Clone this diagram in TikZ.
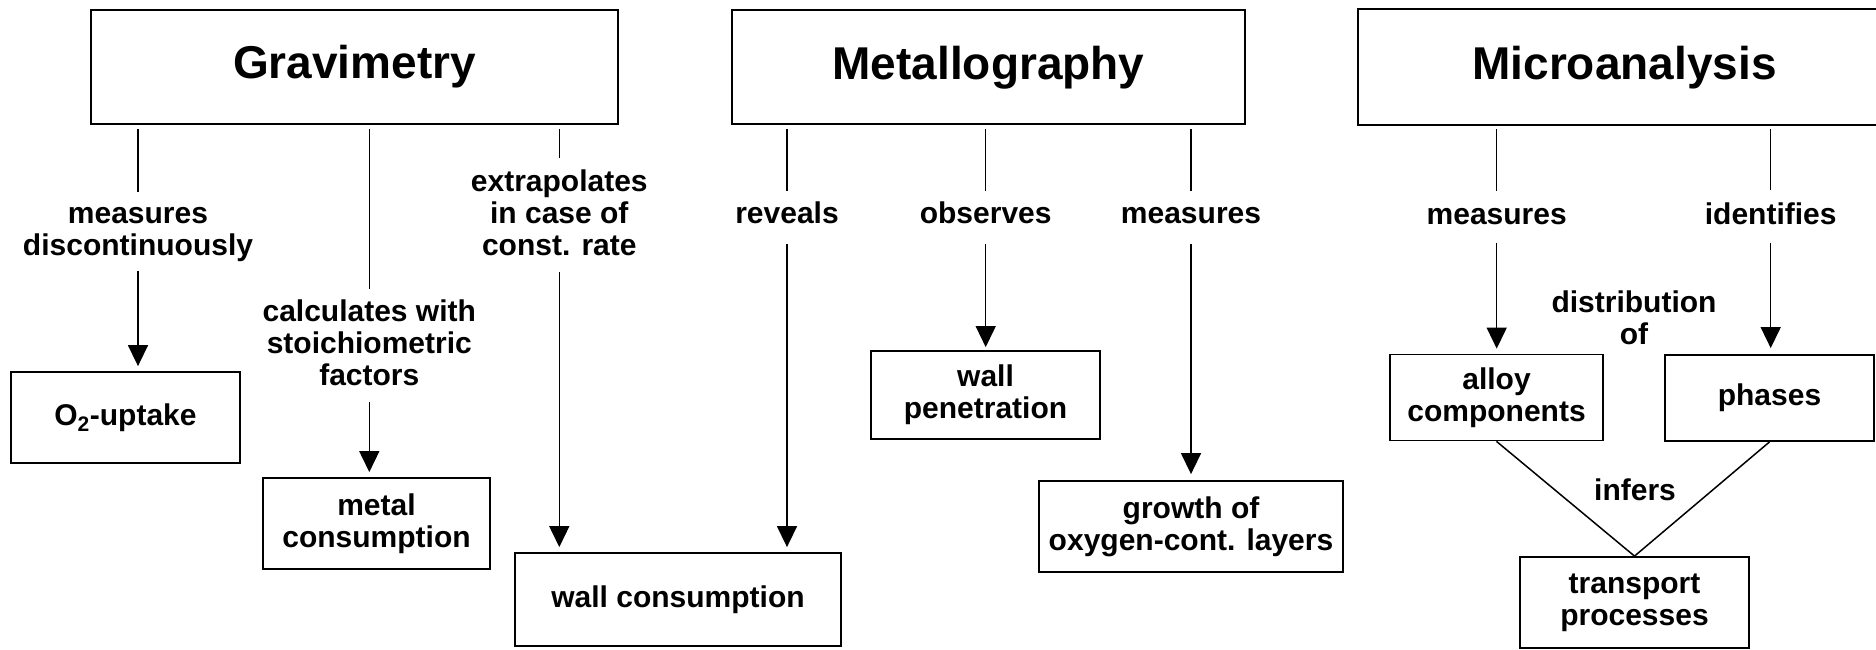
\documentclass[tikz,border=0pt]{standalone}
\usepackage{fontspec}
\setmainfont{Liberation Sans}
\usetikzlibrary{arrows.meta}
\begin{document}
\begin{tikzpicture}[x=1pt,y=-1pt,
  hdr/.style={draw, line width=2pt, font=\fontsize{46}{50}\selectfont\bfseries, inner sep=0pt, minimum height=114pt},
  box/.style={draw, line width=1.8pt, align=center, font=\fontsize{30}{32}\selectfont\bfseries, inner sep=0pt},
  lbl/.style={align=center, font=\fontsize{30}{32}\selectfont\bfseries, inner sep=0pt},
  conn/.style={line width=1.5pt},
  arr/.style={conn, -{Triangle[length=21pt,width=20pt]}}]
\useasboundingbox (0,0) rectangle (1876,650);

% headers
\node[hdr, minimum width=527pt] (grav) at (354.5,67) {Gravimetry};
\node[hdr, minimum width=513pt] (met) at (988.5,67.5) {Metallography};
\node[hdr, draw=none, minimum width=531pt] (micro) at (1624.5,67.5) {Microanalysis};
\draw[line width=2pt] (micro.north east) -- (micro.north west) -- (micro.south west) -- (micro.south east);

% result boxes
\node[box, minimum width=229pt, minimum height=91pt] (o2) at (125.5,417.5) {O\textsubscript{2}-uptake};
\node[box, minimum width=227pt, minimum height=91pt] (metal) at (376.5,523.5) {metal\\consumption};
\node[box, minimum width=326pt, minimum height=93pt] (wallc) at (678,599.5) {wall consumption};
\node[box, minimum width=229pt, minimum height=88pt] (wallp) at (985.5,395) {wall\\penetration};
\node[box, minimum width=304pt, minimum height=91pt] (growth) at (1191,526.5) {growth of\\oxygen-cont. layers};
\node[box, minimum width=213pt, minimum height=86pt] (alloy) at (1496.5,397.5) {alloy\\components};
\node[box, minimum width=209pt, minimum height=86pt] (phases) at (1769.5,398) {phases};
\node[box, minimum width=229pt, minimum height=91pt] (transport) at (1634.5,602.5) {transport\\processes};

% labels
\node[lbl] (lm1) at (138,234.3) {measures\\discontinuously};
\node[lbl] (lc) at (369.3,342.6) {calculates with\\stoichiometric\\factors};
\node[lbl] (le) at (559.3,213) {extrapolates\\in case of\\const. rate};
\node[lbl] (lr) at (787,213) {reveals};
\node[lbl] (lo) at (985.7,213) {observes};
\node[lbl] (lmm) at (1191,216) {measures};
\node[lbl] (lma) at (1496.7,216.2) {measures};
\node[lbl] (li) at (1770.7,213.3) {identifies};
\node[lbl] (ld) at (1634,318) {distribution\\of};
\node[lbl] (linf) at (1635,490) {infers};

% Gravimetry connectors
\draw[conn, shorten <=4pt, shorten >=15pt] (grav.south -| lm1) -- (lm1.north);
\draw[arr, shorten <=9pt, shorten >=5pt] (lm1.south) -- (lm1.south |- o2.north);
\draw[conn, shorten <=4pt, shorten >=10pt] (grav.south -| lc) -- (lc.north);
\draw[arr, shorten <=16pt, shorten >=5pt] (lc.south) -- (lc.south |- metal.north);
\draw[conn, shorten <=4pt, shorten >=12pt] (grav.south -| le) -- (le.north);
\draw[arr, shorten <=16pt, shorten >=5pt] (le.south) -- (le.south |- wallc.north);

% Metallography connectors
\draw[conn, shorten <=4pt, shorten >=11pt] (met.south -| lr) -- (lr.north);
\draw[arr, shorten <=20pt, shorten >=5pt] (lr.south) -- (lr.south |- wallc.north);
\draw[conn, shorten <=4pt, shorten >=11pt] (met.south -| lo) -- (lo.north);
\draw[arr, shorten <=20pt, shorten >=3pt] (lo.south) -- (lo.south |- wallp.north);
\draw[conn, shorten <=4pt, shorten >=17pt] (met.south -| lmm) -- (lmm.north);
\draw[arr, shorten <=20pt, shorten >=6pt] (lmm.south) -- (lmm.south |- growth.north);

% Microanalysis connectors
\draw[conn, shorten <=4pt, shorten >=17pt] (micro.south -| lma) -- (lma.north);
\draw[arr, shorten <=18pt, shorten >=5pt] (lma.south) -- (lma.south |- alloy.north);
\draw[conn, shorten <=4pt, shorten >=12pt] (micro.south -| li) -- (li.north);
\draw[arr, shorten <=18pt, shorten >=6pt] (li.south) -- (li.south |- phases.north);
\draw[conn] (alloy.south) -- (transport.north);
\draw[conn] (phases.south) -- (transport.north);
\end{tikzpicture}
\end{document}
